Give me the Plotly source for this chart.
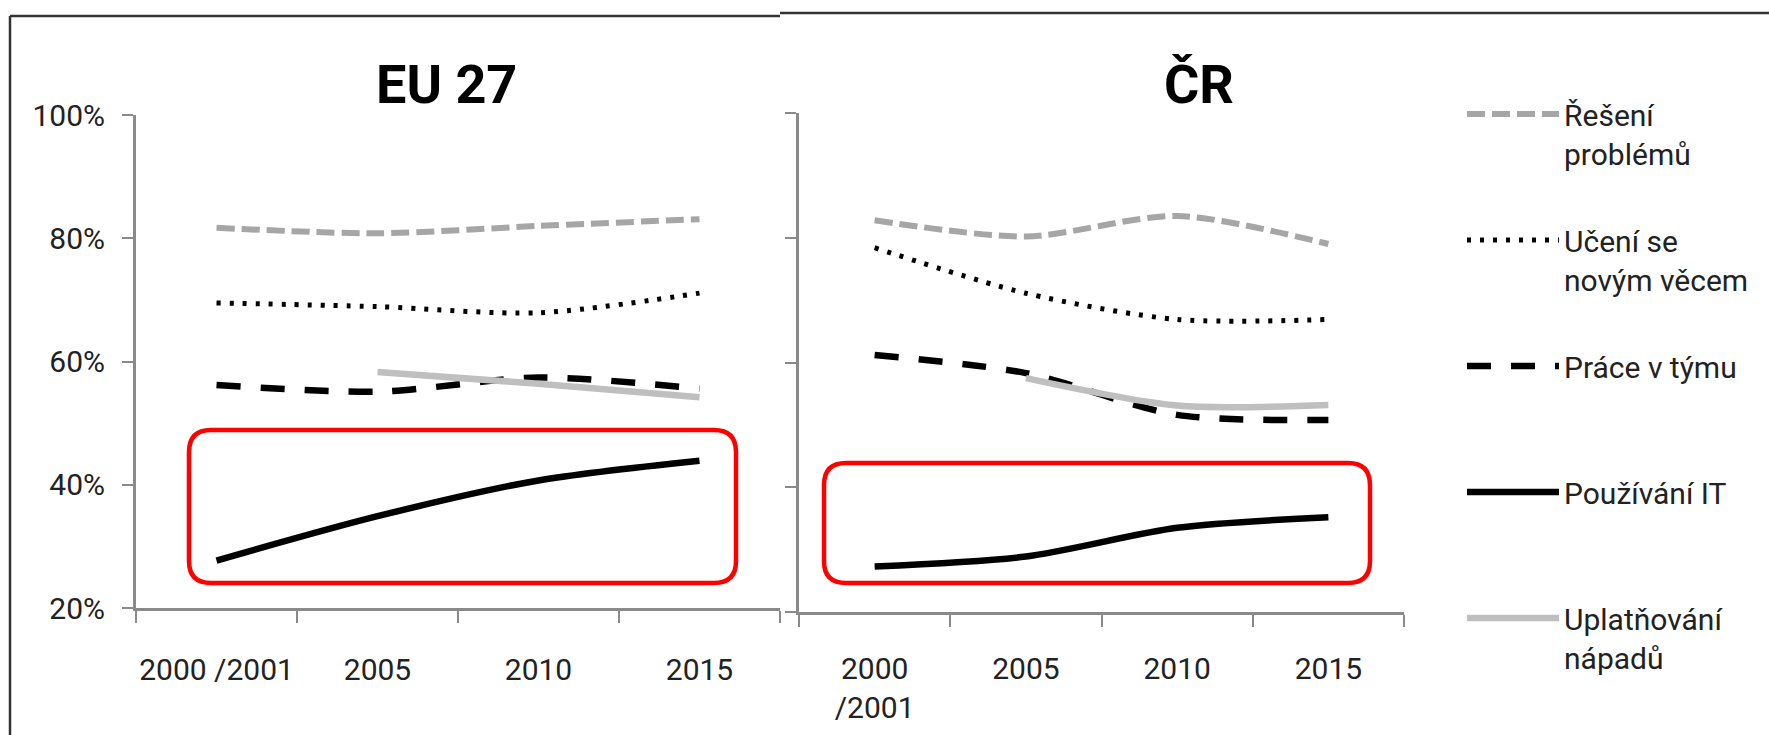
import plotly.graph_objects as go

# ---------------- data ----------------
years_eu = ["2000 /2001", "2005", "2010", "2015"]
years_cr = ["2000<br>/2001", "2005", "2010", "2015"]
y_tick_vals = [20, 40, 60, 80, 100]
y_tick_text = ["20%", "40%", "60%", "80%", "100%"]

series_names = ["Řešení<br>problémů", "Učení se<br>novým věcem", "Práce v týmu<br>\u00a0",
                "Používání IT<br>\u00a0", "Uplatňování<br>nápadů"]

eu_reseni = [81.7, 80.8, 82.0, 83.1]
eu_uceni = [69.5, 68.9, 67.9, 71.1]
eu_prace = [56.2, 55.1, 57.4, 55.6]
eu_it = [27.7, 34.9, 40.7, 43.9]
eu_uplat = [None, 58.3, 56.4, 54.2]

cr_reseni = [82.8, 80.2, 83.5, 79.0]
cr_uceni = [78.4, 71.1, 66.9, 66.9]
cr_prace = [61.2, 58.3, 51.6, 50.8]
cr_it = [27.3, 28.9, 33.5, 35.2]
cr_uplat = [None, 57.5, 53.1, 53.2]

panel_titles = ["EU 27", "ČR"]

# ---------------- styling ----------------
W, H = 1769, 735
FONT = "Roboto, 'Open Sans', sans-serif"
TXT = "#222222"
AX = "#8a8a8a"

line_styles = [
    dict(color="#a6a6a6", width=6, dash="18px,7px"),
    dict(color="#000000", width=5, dash="4px,9px"),
    dict(color="#000000", width=6.5, dash="24px,20px"),
    dict(color="#000000", width=6.5, dash="solid"),
    dict(color="#bfbfbf", width=6.5, dash="solid"),
]

eu_series = [eu_reseni, eu_uceni, eu_prace, eu_it, eu_uplat]
cr_series = [cr_reseni, cr_uceni, cr_prace, cr_it, cr_uplat]


def px(x):
    return x / W


def py(y):
    return 1 - y / H


fig = go.Figure()
for i, name in enumerate(series_names):
    fig.add_trace(go.Scatter(
        x=years_eu, y=eu_series[i], name=name, mode="lines",
        line=dict(shape="spline", smoothing=0.8, **line_styles[i]),
        legendgroup=f"g{i}", showlegend=True, xaxis="x", yaxis="y",
        hoverinfo="skip"))
    fig.add_trace(go.Scatter(
        x=years_cr, y=cr_series[i], name=name, mode="lines",
        line=dict(shape="spline", smoothing=0.8, **line_styles[i]),
        legendgroup=f"g{i}", showlegend=False, xaxis="x2", yaxis="y2",
        hoverinfo="skip"))

xcommon = dict(type="category", range=[-0.5, 3.5], tickson="boundaries",
               ticks="outside", ticklen=12, tickwidth=2, tickcolor=AX,
               showline=True, linecolor=AX, linewidth=3, showgrid=False,
               zeroline=False, tickangle=0,
               tickfont=dict(family=FONT, size=30, color=TXT))
ycommon = dict(range=[20, 100], tickmode="array", tickvals=y_tick_vals,
               ticktext=y_tick_text, ticks="outside", ticklen=11, tickwidth=2,
               tickcolor=AX, showline=True, linecolor=AX, linewidth=3,
               showgrid=False, zeroline=False,
               tickfont=dict(family=FONT, size=30, color=TXT))

fig.update_layout(
    width=W, height=H,
    margin=dict(l=0, r=0, t=0, b=0, autoexpand=False),
    paper_bgcolor="white", plot_bgcolor="white",
    xaxis=dict(domain=[px(136), px(780)], anchor="y", ticklabelstandoff=33, **xcommon),
    yaxis=dict(domain=[py(608), py(115)], anchor="x", ticklabelstandoff=11, **ycommon),
    xaxis2=dict(domain=[px(799), px(1404)], anchor="y2", ticklabelstandoff=28, **xcommon),
    yaxis2=dict(domain=[py(612), py(113)], anchor="x2", showticklabels=False, **ycommon),
    legend=dict(x=px(1462), y=py(88), xanchor="left", yanchor="top",
                font=dict(family=FONT, size=30, color=TXT),
                itemwidth=92, tracegroupgap=45, valign="top",
                bgcolor="rgba(0,0,0,0)", borderwidth=0),
    showlegend=True,
)

# panel titles
for title, cx in zip(panel_titles, [446, 1199]):
    fig.add_annotation(text=f"<b>{title}</b>", x=px(cx), y=py(84), xref="paper",
                       yref="paper", showarrow=False, xanchor="center",
                       yanchor="middle",
                       font=dict(family=FONT, size=54, color="#000000"))


def rounded_rect(x0, y0, x1, y1, r):
    rx, ry = r / W, r / H
    X0, X1 = px(x0), px(x1)
    Y0, Y1 = py(y0), py(y1)  # Y0 top, Y1 bottom
    return (f"M {X0+rx},{Y0} L {X1-rx},{Y0} Q {X1},{Y0} {X1},{Y0-ry} "
            f"L {X1},{Y1+ry} Q {X1},{Y1} {X1-rx},{Y1} "
            f"L {X0+rx},{Y1} Q {X0},{Y1} {X0},{Y1+ry} "
            f"L {X0},{Y0-ry} Q {X0},{Y0} {X0+rx},{Y0} Z")


for box in [(189, 430, 736, 583), (824, 463, 1370, 583)]:
    fig.add_shape(type="path", path=rounded_rect(*box, 22), xref="paper",
                  yref="paper", line=dict(color="#ff0000", width=4.5),
                  fillcolor="rgba(0,0,0,0)", layer="above")

# frame lines of the original screenshot
fig.add_shape(type="line", x0=px(10), x1=px(780), y0=py(16), y1=py(16),
              xref="paper", yref="paper", line=dict(color="#333333", width=2.5))
fig.add_shape(type="line", x0=px(780), x1=px(1769), y0=py(13), y1=py(13),
              xref="paper", yref="paper", line=dict(color="#333333", width=2.5))
fig.add_shape(type="line", x0=px(10), x1=px(10), y0=py(16), y1=py(735),
              xref="paper", yref="paper", line=dict(color="#333333", width=2.5))

fig.write_html("out.html", config={"displayModeBar": False},
               post_script="document.body.style.margin='0px';"
                           "document.body.style.overflow='hidden';")
